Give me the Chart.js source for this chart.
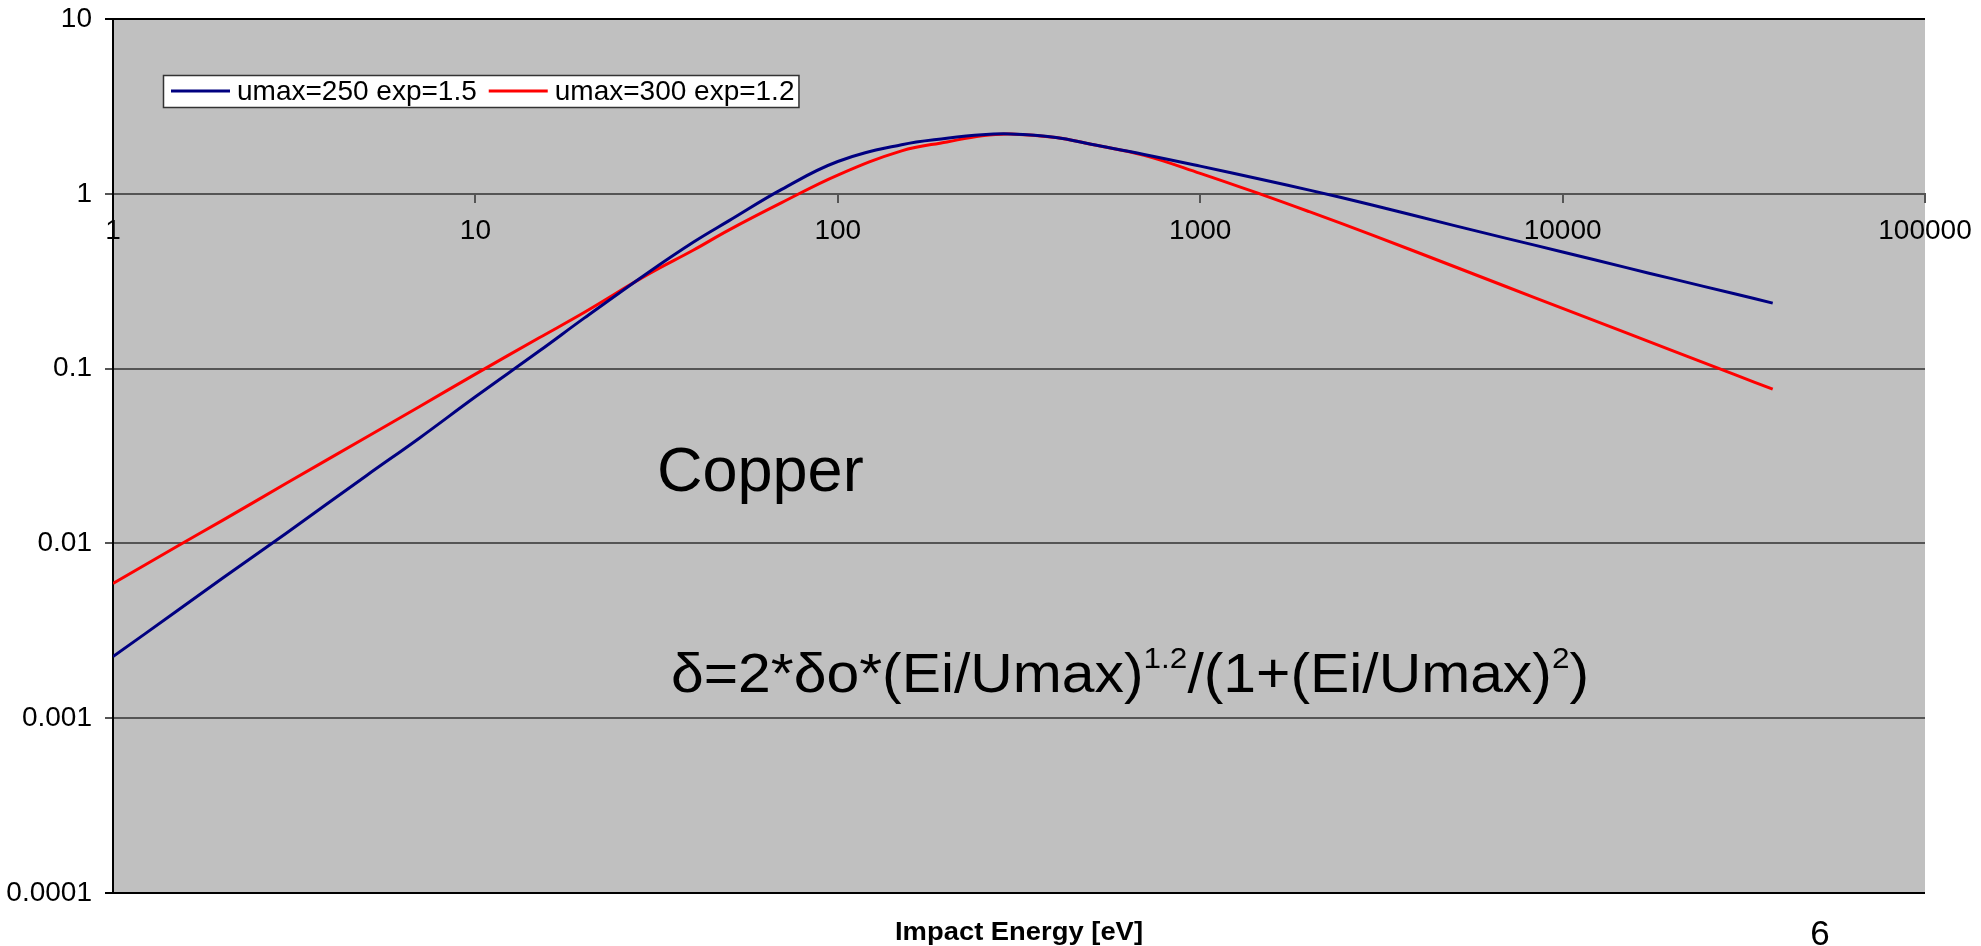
<!DOCTYPE html>
<html><head><meta charset="utf-8">
<script src="https://cdn.jsdelivr.net/npm/chart.js@4.4.1/dist/chart.umd.min.js"></script>
<style>html,body{margin:0;padding:0;background:#fff;}canvas{display:block;}</style>
</head><body>
<canvas id="c" width="1981" height="946" style="width:1981px;height:946px"></canvas>
<script>
// ---- data ----
const energy = [1, 1.5, 2, 3, 5, 7, 10, 15, 20, 30, 40, 50, 70, 100, 150, 200, 250, 300, 400, 500, 700, 1000, 1500, 2000, 3000, 5000, 7000, 10000, 15000, 20000, 30000, 38000];
const seriesBlue = [0.00225, 0.0041, 0.0063, 0.0114, 0.0244, 0.040, 0.069, 0.126, 0.195, 0.355, 0.53, 0.70, 1.06, 1.53, 1.91, 2.08, 2.18, 2.20, 2.10, 1.92, 1.68, 1.44, 1.20, 1.05, 0.86, 0.66, 0.556, 0.465, 0.378, 0.327, 0.267, 0.237];
const seriesRed = [0.0059, 0.0096, 0.0135, 0.022, 0.0405, 0.0605, 0.093, 0.150, 0.21, 0.347, 0.477, 0.62, 0.89, 1.28, 1.76, 1.98, 2.15, 2.20, 2.10, 1.92, 1.66, 1.31, 0.98, 0.79, 0.578, 0.385, 0.294, 0.221, 0.160, 0.127, 0.092, 0.0763];
const seriesLabels = ['umax=250 exp=1.5', 'umax=300 exp=1.2'];
const seriesColors = ['#000080', '#FF0000'];
const xTickValues = [1, 10, 100, 1000, 10000, 100000];
const xTickLabels = ['1', '10', '100', '1000', '10000', '100000'];
const yTickValues = [0.0001, 0.001, 0.01, 0.1, 1, 10];
const yTickLabels = ['0.0001', '0.001', '0.01', '0.1', '1', '10'];
const xAxisTitle = 'Impact Energy [eV]';
const materialLabel = 'Copper';
const formulaParts = [['δ=2*δo*(Ei/Umax)', false], ['1.2', true], ['/(1+(Ei/Umax)', false], ['2', true], [')', false]];
const pageNumber = '6';

const FONT = "'Liberation Sans', Arial, sans-serif";
Chart.defaults.font.family = FONT;
Chart.defaults.color = '#000';

function fitText(ctx, text, x, y, font, width, align) {
  ctx.font = font;
  const w = ctx.measureText(text).width;
  const sx = width / w;
  ctx.save();
  let x0 = x;
  if (align === 'center') x0 = x - width / 2;
  ctx.translate(x0, y);
  ctx.scale(sx, 1);
  ctx.textAlign = 'left';
  ctx.fillText(text, 0, 0);
  ctx.restore();
}

const decor = {
  id: 'decor',
  beforeDraw(chart) {
    const {ctx, chartArea: a} = chart;
    ctx.save();
    ctx.fillStyle = '#C0C0C0';
    ctx.fillRect(a.left, a.top, a.right - a.left, a.bottom - a.top);
    ctx.restore();
  },
  afterDraw(chart) {
    const {ctx, chartArea: a} = chart;
    ctx.save();
    ctx.fillStyle = '#000';
    ctx.textBaseline = 'alphabetic';

    // legend box inside plot
    const lx = a.left + 50, ly = 75, lh = 32;
    ctx.font = '28px ' + FONT;
    let x = lx + 8;
    const entries = [];
    chart.data.datasets.forEach(ds => {
      const tw = ctx.measureText(ds.label).width;
      entries.push({x, tw, ds});
      x += 66 + tw + 12;
    });
    const lw = x - 12 + 4 - lx;
    ctx.fillStyle = '#fff';
    ctx.fillRect(lx, ly, lw, lh);
    ctx.strokeStyle = '#333';
    ctx.lineWidth = 1.5;
    ctx.strokeRect(lx + 0.5, ly + 0.5, lw, lh);
    entries.forEach(e => {
      ctx.strokeStyle = e.ds.borderColor;
      ctx.lineWidth = 3;
      ctx.beginPath();
      ctx.moveTo(e.x, ly + lh / 2);
      ctx.lineTo(e.x + 59, ly + lh / 2);
      ctx.stroke();
      ctx.fillStyle = '#000';
      ctx.textBaseline = 'middle';
      ctx.fillText(e.ds.label, e.x + 66, ly + lh / 2 + 1);
    });
    ctx.textBaseline = 'alphabetic';

    // material label
    ctx.fillStyle = '#000';
    ctx.font = '63px ' + FONT;
    ctx.textAlign = 'left';
    ctx.fillText(materialLabel, 657, 491);

    // formula with superscripts, fitted to width
    const mainFont = '56px ' + FONT, supFont = '30px ' + FONT;
    let total = 0;
    formulaParts.forEach(([t, sup]) => { ctx.font = sup ? supFont : mainFont; total += ctx.measureText(t).width; });
    const sx = 918 / total;
    ctx.save();
    ctx.translate(671, 692);
    ctx.scale(sx, 1);
    let fx = 0;
    formulaParts.forEach(([t, sup]) => {
      ctx.font = sup ? supFont : mainFont;
      ctx.fillText(t, fx, sup ? -24 : 0);
      fx += ctx.measureText(t).width;
    });
    ctx.restore();

    // axis title
    fitText(ctx, xAxisTitle, (a.left + a.right) / 2, 940, 'bold 25px ' + FONT, 248, 'center');

    // page number
    ctx.font = '35px ' + FONT;
    ctx.textAlign = 'center';
    ctx.fillText(pageNumber, 1820, 945);
    ctx.restore();
  }
};

const makeData = vals => energy.map((e, i) => ({x: e, y: vals[i]}));
const lineStyle = {showLine: true, pointRadius: 0, borderWidth: 3, cubicInterpolationMode: 'default', tension: 0.4, fill: false};

new Chart(document.getElementById('c'), {
  type: 'scatter',
  data: {
    datasets: [
      Object.assign({label: seriesLabels[0], data: makeData(seriesBlue), borderColor: seriesColors[0], backgroundColor: seriesColors[0]}, lineStyle),
      Object.assign({label: seriesLabels[1], data: makeData(seriesRed), borderColor: seriesColors[1], backgroundColor: seriesColors[1]}, lineStyle)
    ]
  },
  options: {
    responsive: false,
    animation: false,
    devicePixelRatio: 1,
    layout: {padding: {left: 0, top: 19, right: 56, bottom: 53}},
    plugins: {legend: {display: false}, tooltip: {enabled: false}, title: {display: false}},
    scales: {
      x: {
        type: 'logarithmic',
        position: {y: 1},
        min: 1, max: 100000,
        afterBuildTicks: s => { s.ticks = xTickValues.map(v => ({value: v})); },
        afterFit: s => { s.height = 0; s.paddingLeft = 0; s.paddingRight = 0; },
        ticks: {autoSkip: false, maxRotation: 0, minRotation: 0, padding: 13, font: {size: 28}, color: '#000', callback: (v, i) => xTickLabels[i]},
        grid: {drawOnChartArea: false, drawTicks: true, tickLength: 8, color: '#555', lineWidth: 2},
        border: {display: true, color: '#555', width: 2}
      },
      y: {
        type: 'logarithmic',
        position: 'left',
        min: 0.0001, max: 10,
        afterBuildTicks: s => { s.ticks = yTickValues.map(v => ({value: v})); },
        afterFit: s => { s.width = 113; s.paddingTop = 0; s.paddingBottom = 0; },
        ticks: {padding: 13, font: {size: 28}, color: '#000', callback: (v, i) => yTickLabels[i]},
        grid: {drawOnChartArea: true, drawTicks: true, tickLength: 8, lineWidth: 2,
          color: c => (c.index === 0 || c.index === yTickValues.length - 1) ? '#000' : '#555'},
        border: {display: true, color: '#000', width: 2}
      }
    }
  },
  plugins: [decor]
});
</script>
</body></html>
